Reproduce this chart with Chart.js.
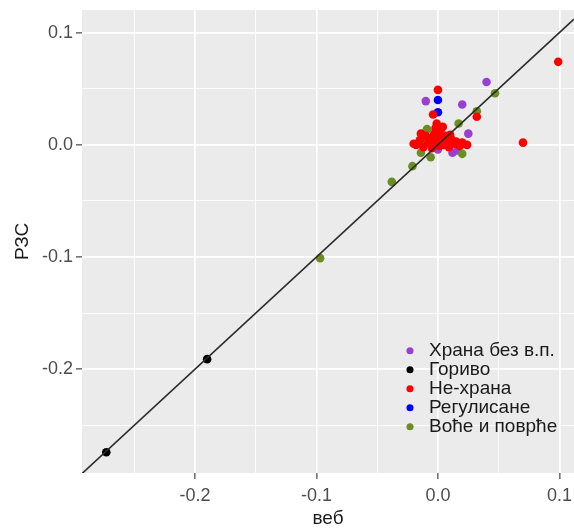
<!DOCTYPE html>
<html>
<head>
<meta charset="utf-8">
<script src="https://cdn.jsdelivr.net/npm/chart.js@4"></script>
<style>
  html, body { margin: 0; padding: 0; background: #fff; }
  #wrap { width: 574px; height: 530px; }
</style>
</head>
<body>
<div id="wrap"><canvas id="rscChart" width="574" height="530"></canvas></div>
<script>
// Podaci procitani sa slike (x = веб, y = РЗС)
const hranaX = [0.040, -0.010, 0.020, 0.025, 0.002, 0.000, 0.012, 0.016, 0.006];
const hranaY = [0.056, 0.039, 0.036, 0.010, 0.014, -0.004, -0.007, -0.005, 0.006];

const gorivoX = [-0.273, -0.190];
const gorivoY = [-0.274, -0.191];

const nehranaX = [0.099, 0.070, 0.000, -0.004, -0.001, 0.032, -0.018, -0.015, -0.012, -0.010, -0.008, -0.006,
                  -0.005, -0.003, -0.002, 0.000, 0.001, 0.002, 0.003, 0.005, 0.006, 0.008, 0.009, 0.011,
                  0.013, 0.015, 0.018, 0.020, 0.024, -0.002, 0.004, -0.014, 0.010, -0.020];
const nehranaY = [0.074, 0.002, 0.049, 0.027, 0.019, 0.025, 0.000, 0.004, -0.002, 0.008, 0.002, 0.006,
                  -0.003, 0.010, 0.003, 0.007, -0.001, 0.012, 0.004, 0.000, 0.008, 0.003, -0.002, 0.005,
                  0.001, 0.003, -0.001, 0.002, 0.000, 0.015, 0.016, 0.010, 0.009, 0.001];

const regulisaneX = [0.000, 0.000, 0.002];
const regulisaneY = [0.040, 0.029, 0.004];

const voceX = [0.047, 0.032, 0.017, -0.009, -0.014, -0.006, 0.020, -0.021, -0.038, -0.097, -0.010];
const voceY = [0.046, 0.030, 0.019, 0.014, -0.007, -0.011, -0.008, -0.019, -0.033, -0.101, 0.004];

// linija y = x
const linijaX = [-0.293, 0.112];
const linijaY = [-0.293, 0.112];

const xMin = -0.293, xMax = 0.112;
const yMin = -0.2925, yMax = 0.1202;

const FONT = '"Liberation Sans", Arial, sans-serif';

function tacke(xs, ys) {
    return xs.map((x, i) => ({ x: x, y: ys[i] }));
}

function jeGlavni(v) {
    return Math.abs(v * 10 - Math.round(v * 10)) < 1e-6;
}

function serija(label, xs, ys, boja, red) {
    return {
        label: label,
        data: tacke(xs, ys),
        backgroundColor: boja,
        borderColor: boja,
        borderWidth: 0,
        pointRadius: 4.3,
        pointStyle: 'circle',
        order: red
    };
}

// Siva pozadina panela kao u ggplot-u
const pozadina = {
    id: 'pozadina',
    beforeDraw(chart) {
        const { ctx, chartArea: a } = chart;
        ctx.save();
        ctx.fillStyle = '#ebebeb';
        ctx.fillRect(a.left, a.top, a.right - a.left, a.bottom - a.top);
        ctx.restore();
    }
};

// Legenda unutar panela, dole desno
const legendaPomeraj = {
    id: 'legendaPomeraj',
    afterUpdate(chart) {
        const lg = chart.legend;
        if (!lg) return;
        const h = lg.height;
        const w = lg.width;
        lg.left = 400.5;
        lg.right = lg.left + w;
        lg.top = 341.2;
        lg.bottom = lg.top + h;
    }
};

const osa = (naslov, razmak) => ({
    type: 'linear',
    border: { display: false },
    grid: {
        color: '#ffffff',
        lineWidth: (c) => (c.tick && jeGlavni(c.tick.value)) ? 1.7 : 0.8,
        drawTicks: true,
        tickLength: 6,
        tickWidth: 1.2,
        tickColor: (c) => (c.tick && jeGlavni(c.tick.value)) ? '#444444' : 'rgba(0,0,0,0)'
    },
    ticks: {
        stepSize: 0.05,
        includeBounds: false,
        autoSkip: false,
        maxRotation: 0,
        padding: razmak,
        color: '#4d4d4d',
        font: { family: FONT, size: 18 },
        callback: (v) => jeGlavni(v) ? Number(v).toFixed(1) : ''
    },
    title: {
        display: true,
        text: naslov,
        color: '#1a1a1a',
        font: { family: FONT, size: 19 },
        padding: { top: 11, bottom: 0 }
    }
});

const xOsa = osa('веб', 6);
xOsa.position = 'bottom';
xOsa.min = xMin;
xOsa.max = xMax;
xOsa.afterFit = (s) => { s.height = 57; s.paddingLeft = 0; s.paddingRight = 0; };

const yOsa = osa('РЗС', 3);
yOsa.position = 'left';
yOsa.min = yMin;
yOsa.max = yMax;
yOsa.afterFit = (s) => { s.width = 82; s.paddingTop = 0; s.paddingBottom = 0; };

const ctx = document.getElementById('rscChart').getContext('2d');
const rscChart = new Chart(ctx, {
    type: 'scatter',
    data: {
        datasets: [
            serija('Храна без в.п.', hranaX, hranaY, '#9a3fd0', 4),
            serija('Гориво', gorivoX, gorivoY, '#000000', 3),
            serija('Не-храна', nehranaX, nehranaY, '#ff0000', 1),
            serija('Регулисане', regulisaneX, regulisaneY, '#0000ff', 2),
            serija('Воће и поврће', voceX, voceY, '#6b8e23', 3),
            {
                label: 'y = x',
                data: tacke(linijaX, linijaY),
                showLine: true,
                borderColor: '#2b2b2b',
                borderWidth: 1.6,
                pointRadius: 0,
                order: 0
            }
        ]
    },
    options: {
        responsive: false,
        animation: false,
        layout: { autoPadding: false, padding: { left: 0, right: 0, top: 10, bottom: 0 } },
        scales: { x: xOsa, y: yOsa },
        plugins: {
            tooltip: { enabled: false },
            legend: {
                position: 'chartArea',
                align: 'start',
                labels: {
                    filter: (item) => item.datasetIndex < 5,
                    sort: (a, b) => a.datasetIndex - b.datasetIndex,
                    usePointStyle: true,
                    pointStyle: 'circle',
                    boxWidth: 19,
                    boxHeight: 5,
                    padding: 0,
                    color: '#1a1a1a',
                    font: { family: FONT, size: 19 }
                }
            }
        }
    },
    plugins: [pozadina, legendaPomeraj]
});
</script>
</body>
</html>
